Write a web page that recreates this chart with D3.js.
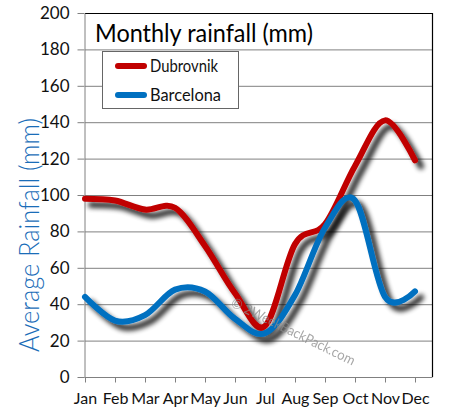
<!DOCTYPE html>
<html><head><meta charset="utf-8">
<script src="https://cdn.jsdelivr.net/npm/d3@7"></script>
<style>body{margin:0;background:#fff}svg{display:block}</style>
</head><body>
<svg id="c" width="451" height="418"></svg>
<script>
const months = ["Jan","Feb","Mar","Apr","May","Jun","Jul","Aug","Sep","Oct","Nov","Dec"];
const dubrovnik = [98, 97, 92, 93, 72, 46, 28, 73, 84, 116, 141, 119];
const barcelona = [44, 31, 34, 48, 47, 32, 24, 45, 82, 97, 44, 47];
const yTicks = [0,20,40,60,80,100,120,140,160,180,200];
const seriesNames = ["Dubrovnik","Barcelona"];
const seriesColors = ["#C00000","#0070C0"];

const svg = d3.select("#c");
const L=85, R=432, T=13, B=377;
const x = d3.scalePoint().domain(months).range([85,415]);
const y = d3.scaleLinear().domain([0,200]).range([B,T]);

const defs = svg.append("defs");
const f = defs.append("filter").attr("id","sh").attr("x","-20%").attr("y","-20%").attr("width","150%").attr("height","150%");
f.append("feGaussianBlur").attr("in","SourceAlpha").attr("stdDeviation",2.4).attr("result","b");
f.append("feOffset").attr("in","b").attr("dx",6).attr("dy",6).attr("result","o");
f.append("feComponentTransfer").attr("in","o").attr("result","o2")
  .append("feFuncA").attr("type","linear").attr("slope",0.85);
const m = f.append("feMerge");
m.append("feMergeNode").attr("in","o2");
m.append("feMergeNode").attr("in","SourceGraphic");

// gridlines
svg.append("g").selectAll("line").data(yTicks.filter(d=>d>0 && d<200)).join("line")
  .attr("x1",L).attr("x2",R).attr("y1",d=>y(d)+0.5).attr("y2",d=>y(d)+0.5)
  .attr("stroke","#808080").attr("stroke-width",1);

// border top/right
svg.append("path").attr("d",`M${L},${T+0.5}H${R+0.5}V${B}`).attr("fill","none").attr("stroke","#000").attr("stroke-width",1.2);

// axes
const yAxis = svg.append("g").attr("transform",`translate(${L-0.5},0)`)
  .call(d3.axisLeft(y).tickValues(yTicks).tickSize(7).tickPadding(8).tickSizeOuter(0));
yAxis.select(".domain").attr("stroke","#808080");
yAxis.selectAll(".tick line").attr("stroke","#808080");
yAxis.selectAll("text").attr("font-family","Lato, sans-serif").attr("font-size",17).attr("fill","#111");

const xAxis = svg.append("g").attr("transform",`translate(0,${B+0.5})`)
  .call(d3.axisBottom(x).tickSize(5).tickPadding(10).tickSizeOuter(0));
xAxis.select(".domain").attr("d",`M${L-0.5},0H${R+0.5}`).attr("stroke","#808080");
xAxis.selectAll(".tick line").attr("stroke","#808080");
xAxis.selectAll("text").attr("font-family","Lato, sans-serif").attr("font-size",16).attr("fill","#111");

// lines
const line = d3.line().x((d,i)=>x(months[i])).y(d=>y(d)).curve(d3.curveCardinal.tension(0));
[dubrovnik, barcelona].forEach((s,k)=>{
  svg.append("path").attr("d",line(s)).attr("fill","none")
    .attr("stroke",seriesColors[k]).attr("stroke-width",6)
    .attr("stroke-linecap","round").attr("stroke-linejoin","round")
    .attr("filter","url(#sh)");
});

// watermark
svg.append("text").attr("transform","translate(230,306) rotate(26)")
  .attr("font-family","Lato, sans-serif").attr("font-size",14).attr("fill","#8a8a8a").attr("opacity",0.75)
  .attr("textLength",136).attr("lengthAdjust","spacingAndGlyphs")
  .text("© 2WeekBackPack.com");

// title
svg.append("text").attr("x",95).attr("y",42)
  .attr("font-family","Lato, sans-serif").attr("font-size",25).attr("fill","#000")
  .attr("textLength",218).attr("lengthAdjust","spacingAndGlyphs")
  .text("Monthly rainfall (mm)");

// legend
const lg = svg.append("g");
lg.append("rect").attr("x",102.5).attr("y",51.5).attr("width",136).attr("height",57)
  .attr("fill","#fff").attr("stroke","#666").attr("stroke-width",1);
seriesNames.forEach((n,k)=>{
  const yy = 66 + k*29;
  lg.append("line").attr("x1",118).attr("x2",144).attr("y1",yy).attr("y2",yy)
    .attr("stroke",seriesColors[k]).attr("stroke-width",6).attr("stroke-linecap","round");
  lg.append("text").attr("x",150).attr("y",yy+6)
    .attr("font-family","Lato, sans-serif").attr("font-size",18).attr("fill","#111")
    .attr("textLength",k===0?68:71).attr("lengthAdjust","spacingAndGlyphs")
    .text(n);
});

// y axis title
svg.append("text").attr("transform","translate(39,235) rotate(-90)")
  .attr("text-anchor","middle")
  .attr("font-family","Lato, sans-serif").attr("font-weight",300).attr("font-size",27).attr("fill","#1A6DB8")
  .attr("textLength",234).attr("lengthAdjust","spacingAndGlyphs")
  .text("Average Rainfall (mm)");
</script>
</body></html>
